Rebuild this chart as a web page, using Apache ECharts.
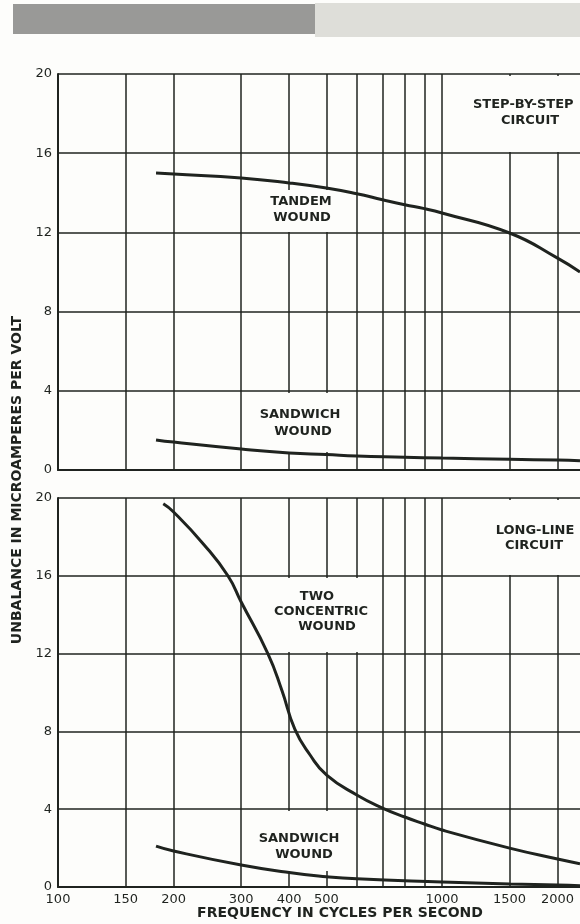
<!DOCTYPE html>
<html><head><meta charset="utf-8">
<script src="https://cdn.jsdelivr.net/npm/echarts@6/dist/echarts.min.js"></script>
<style>html,body{margin:0;padding:0;background:#fdfdfb}#c{width:580px;height:924px}</style>
</head><body><div id="c"></div><script>
// x-axis (frequency, cycles per second) grid lines and labels
const gridFreqs = [100,150,200,300,400,500,600,700,800,900,1000,1500,2000];
const labelFreqs = [100,150,200,300,400,500,1000,1500,2000];
// Top panel: step-by-step circuit
const tandemFreq = [180,200,300,400,500,600,700,800,900,1000,1500,2000,2288];
const tandemVal  = [15.0,14.95,14.75,14.5,14.24,13.95,13.65,13.4,13.2,12.98,11.97,10.7,10.0];
const sandTopFreq = [180,200,300,400,500,600,800,1000,1500,2000,2288];
const sandTopVal  = [1.52,1.41,1.06,0.86,0.78,0.71,0.65,0.6,0.54,0.5,0.47];
// Bottom panel: long-line circuit
const concFreq = [188,200,240,277,300,352,383,414,453,501,600,700,800,900,1000,1500,2000,2288];
const concVal  = [19.7,19.28,17.6,16.0,14.65,12.0,10.1,8.1,6.8,5.75,4.73,4.06,3.6,3.24,2.93,2.0,1.44,1.2];
const sandBotFreq = [180,200,300,400,500,600,1000,1500,2000,2288];
const sandBotVal  = [2.1,1.85,1.13,0.74,0.53,0.42,0.26,0.15,0.1,0.06];

const INK = '#1f231f';
const FONT = 'DejaVu Sans';
const pairs = (f, v) => f.map((x, i) => [x, v[i]]);

function xAxisDef(gi, showLabels) {
  return {
    type: 'log', logBase: 10, gridIndex: gi, min: 100, max: 2288,
    axisLine: {show: true, onZero: false, lineStyle: {color: INK, width: 2}},
    axisTick: {show: false, customValues: gridFreqs},
    splitLine: {show: true, lineStyle: {color: INK, width: 1.5}},
    axisLabel: showLabels ? {show: true, customValues: labelFreqs, formatter: v => String(Math.round(v)),
      color: INK, fontFamily: FONT, fontSize: 13, margin: 6} : {show: false},
  };
}
function yAxisDef(gi) {
  return {
    type: 'value', gridIndex: gi, min: 0, max: 20, interval: 4,
    axisLine: {show: true, lineStyle: {color: INK, width: 2}},
    axisTick: {show: false},
    splitLine: {show: true, lineStyle: {color: INK, width: 1.5}},
    axisLabel: {color: INK, fontFamily: FONT, fontSize: 13, margin: 6},
  };
}
function lineSeries(gi, data) {
  return {type: 'line', xAxisIndex: gi, yAxisIndex: gi, data, showSymbol: false,
    smooth: 0.5, lineStyle: {color: INK, width: 3}, z: 5, silent: true};
}
function box(x, y, w, h) {
  return {type: 'rect', left: x, top: y, shape: {width: w, height: h}, style: {fill: '#fdfdfb'}, z: 3};
}
function note(cx, cy, s) {
  return {type: 'text', x: cx, y: cy, z: 4,
    style: {text: s, fill: INK, font: 'bold 13px ' + FONT, align: 'center', verticalAlign: 'middle'}};
}

const chart = echarts.init(document.getElementById('c'), null, {renderer: 'canvas'});
chart.setOption({
  backgroundColor: '#fdfdfb',
  animation: false,
  grid: [
    {left: 58, top: 74, right: 0, height: 396},
    {left: 58, top: 498, right: 0, height: 389},
  ],
  xAxis: [xAxisDef(0, false), xAxisDef(1, true)],
  yAxis: [yAxisDef(0), yAxisDef(1)],
  series: [
    lineSeries(0, pairs(tandemFreq, tandemVal)),
    lineSeries(0, pairs(sandTopFreq, sandTopVal)),
    lineSeries(1, pairs(concFreq, concVal)),
    lineSeries(1, pairs(sandBotFreq, sandBotVal)),
  ],
  graphic: [
    {type: 'rect', left: 13, top: 4, shape: {width: 302, height: 30}, style: {fill: '#999997'}, z: 1},
    {type: 'rect', left: 315, top: 3, shape: {width: 265, height: 34}, style: {fill: '#dedeD9'}, z: 1},
    box(444, 76, 140, 76), box(444, 500, 140, 75),
    box(262, 190, 78, 42), box(255, 393, 90, 59),
    box(262, 578, 119, 74), box(255, 811, 90, 60),
    {type: 'text', x: 473, y: 105, z: 4, style: {text: 'STEP-BY-STEP', fill: INK, font: 'bold 13px ' + FONT, verticalAlign: 'middle'}},
    note(530, 121, 'CIRCUIT'),
    note(535, 531, 'LONG-LINE'),
    note(534, 546, 'CIRCUIT'),
    note(301, 202, 'TANDEM'), note(302, 218, 'WOUND'),
    note(300, 415, 'SANDWICH'), note(303, 432, 'WOUND'),
    note(317, 597, 'TWO'), note(321, 612, 'CONCENTRIC'), note(327, 627, 'WOUND'),
    note(299, 839, 'SANDWICH'), note(304, 855, 'WOUND'),
    {type: 'text', x: 340, y: 913, z: 4, style: {text: 'FREQUENCY IN CYCLES PER SECOND', fill: INK, font: 'bold 14px ' + FONT, align: 'center', verticalAlign: 'middle'}},
    {type: 'text', x: 17, y: 480, rotation: Math.PI / 2, z: 4, style: {text: 'UNBALANCE IN MICROAMPERES PER VOLT', fill: INK, font: 'bold 14px ' + FONT, align: 'center', verticalAlign: 'middle'}},
  ],
});
</script></body></html>
